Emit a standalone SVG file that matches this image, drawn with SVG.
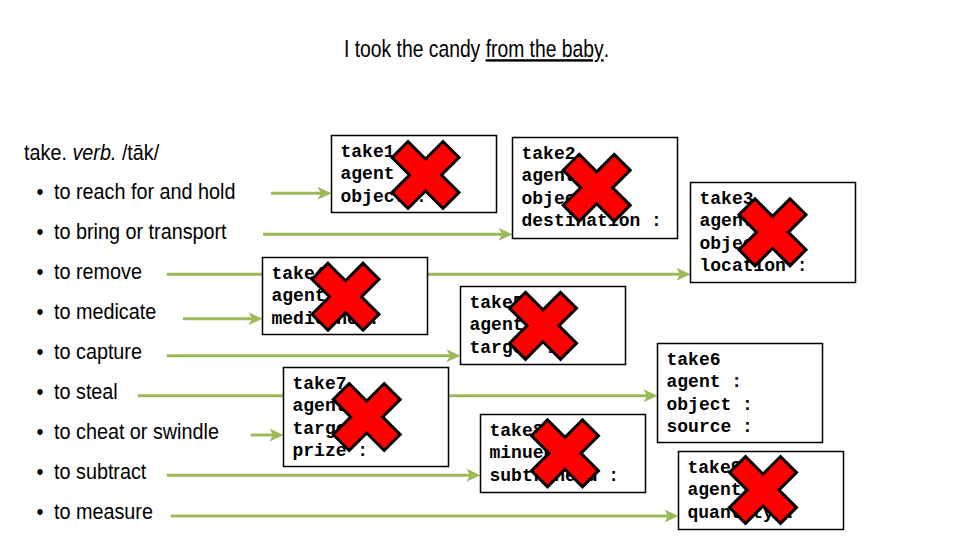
<svg xmlns="http://www.w3.org/2000/svg" width="960" height="540" viewBox="0 0 960 540">
<style>
.sans{font-family:"Liberation Sans",Arial,sans-serif;fill:#000}
.mono{font-family:"Liberation Mono","Courier New",monospace;font-weight:bold;font-size:18px;fill:#000}
.box{fill:#fff;stroke:#000;stroke-width:1.5}
.conn{stroke:#9BBB59;stroke-width:3;fill:none;marker-end:url(#arr)}
</style>
<defs>
<marker id="arr" markerUnits="userSpaceOnUse" markerWidth="16" markerHeight="14" refX="0" refY="0" orient="auto" overflow="visible">
<path d="M10,0 L-4,-6.5 L-0.5,0 L-4,6.5 Z" fill="#9BBB59"/>
</marker>
<polygon id="cross" points="-17.5,-33.5 0,-16 17.5,-33.5 33.5,-17.5 16,0 33.5,17.5 17.5,33.5 0,16 -17.5,33.5 -33.5,17.5 -16,0 -33.5,-17.5" fill="#FF0000" stroke="#000" stroke-width="3" stroke-linejoin="miter"/>
</defs>
<rect width="960" height="540" fill="#fff"/>
<g id="title">
<text class="sans" font-size="24" transform="translate(344,57) scale(0.805,1)">I took the candy <tspan text-decoration="underline">from the baby</tspan>.</text>
</g>
<g id="senses" class="sans" font-size="22" transform="scale(0.9,1)">
<text x="26.7" y="160">take. <tspan font-style="italic">verb.</tspan> /tāk/</text>
<text y="199"><tspan x="40.5">•</tspan><tspan x="60">to reach for and hold</tspan></text>
<text y="239"><tspan x="40.5">•</tspan><tspan x="60">to bring or transport</tspan></text>
<text y="279"><tspan x="40.5">•</tspan><tspan x="60">to remove</tspan></text>
<text y="319"><tspan x="40.5">•</tspan><tspan x="60">to medicate</tspan></text>
<text y="359"><tspan x="40.5">•</tspan><tspan x="60">to capture</tspan></text>
<text y="399"><tspan x="40.5">•</tspan><tspan x="60">to steal</tspan></text>
<text y="439"><tspan x="40.5">•</tspan><tspan x="60">to cheat or swindle</tspan></text>
<text y="479"><tspan x="40.5">•</tspan><tspan x="60">to subtract</tspan></text>
<text y="519"><tspan x="40.5">•</tspan><tspan x="60">to measure</tspan></text>
</g>
<g id="connectors">
<line class="conn" x1="271" y1="193.3" x2="321.5" y2="193.3"/>
<line class="conn" x1="263" y1="234.3" x2="502.5" y2="234.3"/>
<line class="conn" x1="166.7" y1="274.3" x2="680.5" y2="274.3"/>
<line class="conn" x1="183" y1="318.7" x2="252.5" y2="318.7"/>
<line class="conn" x1="166.7" y1="355.7" x2="450.5" y2="355.7"/>
<line class="conn" x1="137.7" y1="395.7" x2="647.5" y2="395.7"/>
<line class="conn" x1="250.7" y1="435" x2="273.5" y2="435"/>
<line class="conn" x1="166.7" y1="475.3" x2="470.5" y2="475.3"/>
<line class="conn" x1="170.7" y1="516" x2="668.5" y2="516"/>
</g>
<g id="take1">
<rect class="box" x="331.5" y="135.5" width="165" height="77"/>
<text class="mono"><tspan x="340.5" y="156.5">take1</tspan><tspan x="340.5" y="179">agent :</tspan><tspan x="340.5" y="201.5">object :</tspan></text>
<use href="#cross" x="425.5" y="175"/>
</g>
<g id="take2">
<rect class="box" x="512.5" y="137.5" width="165" height="101"/>
<text class="mono"><tspan x="521.5" y="158.5">take2</tspan><tspan x="521.5" y="181">agent :</tspan><tspan x="521.5" y="203.5">object :</tspan><tspan x="521.5" y="226">destination :</tspan></text>
<use href="#cross" x="596.7" y="187.8"/>
</g>
<g id="take3">
<rect class="box" x="690.5" y="182.5" width="165" height="100"/>
<text class="mono"><tspan x="699.5" y="203.5">take3</tspan><tspan x="699.5" y="226">agent :</tspan><tspan x="699.5" y="248.5">object :</tspan><tspan x="699.5" y="271">location :</tspan></text>
<use href="#cross" x="772.5" y="232.3"/>
</g>
<g id="take4">
<rect class="box" x="262.5" y="257.5" width="165" height="77"/>
<text class="mono"><tspan x="271.5" y="278.5">take4</tspan><tspan x="271.5" y="301">agent :</tspan><tspan x="271.5" y="323.5">medicine :</tspan></text>
<use href="#cross" x="345.5" y="296.7"/>
</g>
<g id="take5">
<rect class="box" x="460.5" y="286.5" width="165" height="78"/>
<text class="mono"><tspan x="469.5" y="307.5">take5</tspan><tspan x="469.5" y="330">agent :</tspan><tspan x="469.5" y="352.5">target :</tspan></text>
<use href="#cross" x="543" y="325.8"/>
</g>
<g id="take6">
<rect class="box" x="657.5" y="343.5" width="165" height="99"/>
<text class="mono"><tspan x="666.5" y="364.5">take6</tspan><tspan x="666.5" y="387">agent :</tspan><tspan x="666.5" y="409.5">object :</tspan><tspan x="666.5" y="432">source :</tspan></text>
</g>
<g id="take7">
<rect class="box" x="283.5" y="367.5" width="165" height="99"/>
<text class="mono"><tspan x="292.5" y="388.5">take7</tspan><tspan x="292.5" y="411">agent :</tspan><tspan x="292.5" y="433.5">target :</tspan><tspan x="292.5" y="456">prize :</tspan></text>
<use href="#cross" x="366.7" y="417"/>
</g>
<g id="take8">
<rect class="box" x="480.5" y="414.5" width="165" height="78"/>
<text class="mono"><tspan x="489.5" y="435.5">take8</tspan><tspan x="489.5" y="458">minuend :</tspan><tspan x="489.5" y="480.5">subtrahend :</tspan></text>
<use href="#cross" x="565" y="453.3"/>
</g>
<g id="take9">
<rect class="box" x="678.5" y="451.5" width="165" height="78"/>
<text class="mono"><tspan x="687.5" y="472.5">take9</tspan><tspan x="687.5" y="495">agent :</tspan><tspan x="687.5" y="517.5">quantity :</tspan></text>
<use href="#cross" x="763" y="490"/>
</g>
</svg>
